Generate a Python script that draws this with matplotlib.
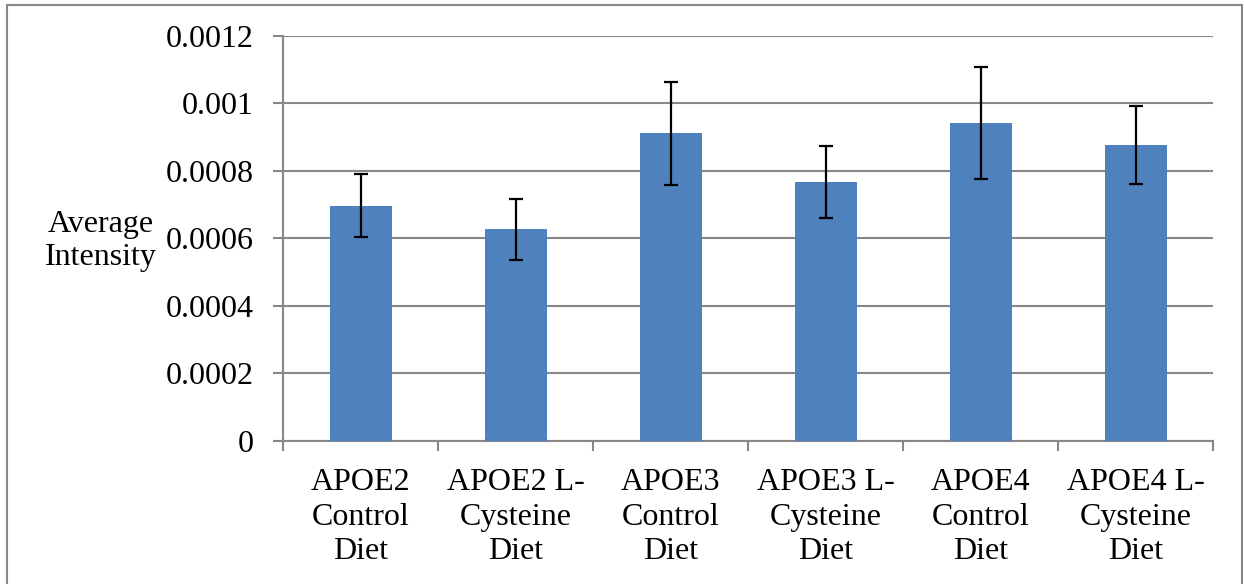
import numpy as np
import matplotlib
matplotlib.use("Agg")
import matplotlib.pyplot as plt
from matplotlib.patches import Rectangle

# data
groups = ["APOE2\nControl\nDiet", "APOE2 L-\nCysteine\nDiet",
          "APOE3\nControl\nDiet", "APOE3 L-\nCysteine\nDiet",
          "APOE4\nControl\nDiet", "APOE4 L-\nCysteine\nDiet"]
means = [0.000697, 0.000626, 0.000911, 0.000767, 0.000942, 0.000877]
errors = [0.000094, 0.000090, 0.000152, 0.000106, 0.000166, 0.000116]
yticks = [0, 0.0002, 0.0004, 0.0006, 0.0008, 0.001, 0.0012]
ytick_labels = ["0", "0.0002", "0.0004", "0.0006", "0.0008", "0.001", "0.0012"]

plt.rcParams['font.family'] = ['Liberation Serif', 'DejaVu Serif']
grid_col = '#878787'

fig = plt.figure(figsize=[12.44, 5.84], dpi=100)
ax = fig.add_axes([283/1244, 1 - 440.5/584, (1213 - 283)/1244, (440.5 - 36)/584])

x = np.arange(len(groups))
ax.bar(x, means, width=0.4, color='#4F81BD', zorder=3)
ax.errorbar(x, means, yerr=errors, fmt='none', ecolor='black',
            elinewidth=1.6, capsize=5, capthick=1.6, zorder=4)

ax.set_xlim(-0.5, len(groups) - 0.5)
ax.set_ylim(0, 0.0012)
ax.set_yticks(yticks)
ax.set_yticklabels(ytick_labels, fontsize=23)
ax.yaxis.grid(True, color=grid_col, linewidth=1.5, zorder=0)

# labels at centres, tick marks at category boundaries
ax.set_xticks(x)
ax.set_xticklabels(groups, fontsize=23, linespacing=1.25)
ax.set_xticks(np.arange(-0.5, len(groups)), minor=True)
ax.tick_params(axis='x', which='major', length=0, pad=20)
ax.tick_params(axis='x', which='minor', length=7, width=1.5, color=grid_col)
ax.tick_params(axis='y', length=7, width=1.5, color=grid_col, pad=14)

for s in ['top', 'right']:
    ax.spines[s].set_visible(False)
for s in ['left', 'bottom']:
    ax.spines[s].set_color(grid_col)
    ax.spines[s].set_linewidth(1.5)

fig.text(101/1244, 1 - 241/584, "Average\nIntensity", fontsize=23,
         ha='center', va='center', linespacing=1.15)

# outer chart border
fig.patches.append(Rectangle((7/1244, -0.05), (1242 - 7)/1244, 1.05 - 5/584,
                             transform=fig.transFigure, fill=False,
                             edgecolor=grid_col, linewidth=1.5))

fig.savefig("out.png", dpi=100)
